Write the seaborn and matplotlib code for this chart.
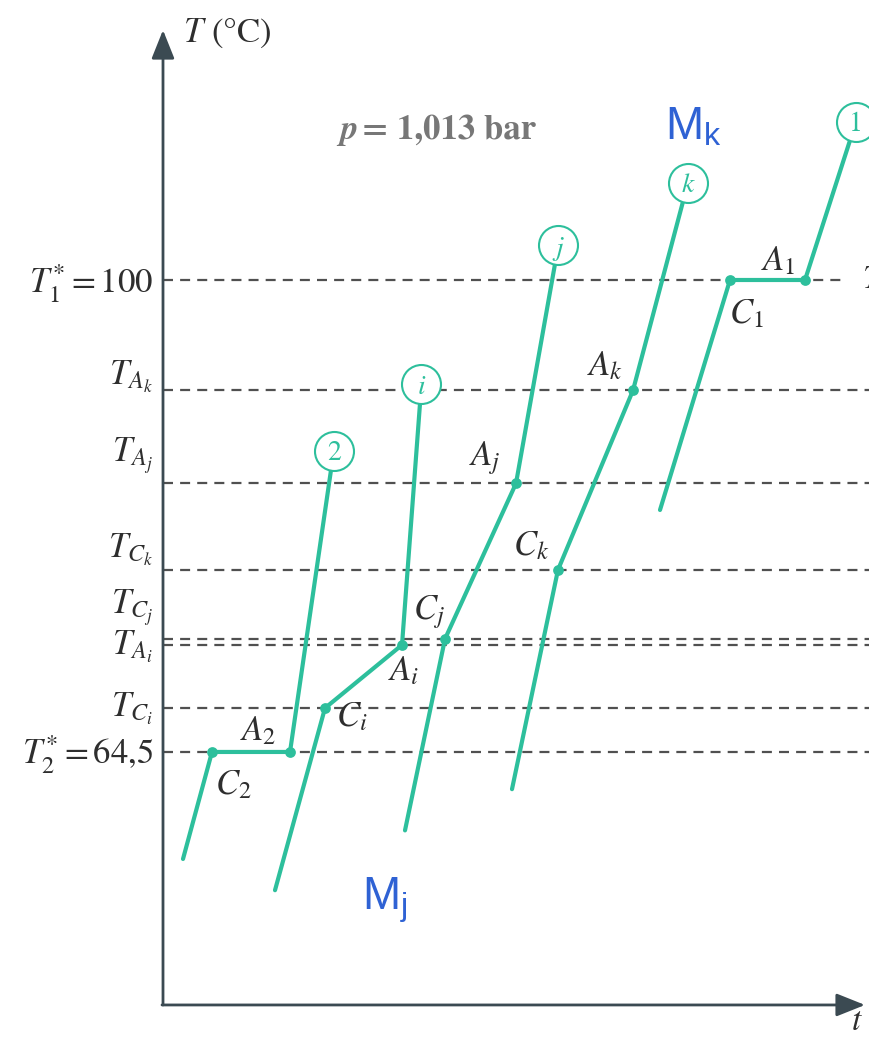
import numpy as np
import pandas as pd
import matplotlib
matplotlib.use("Agg")
import matplotlib.pyplot as plt
import seaborn as sns

# ---- cooling curves: time t (arbitrary units), temperature T (°C) ----
curve_names = ["2", "i", "j", "k", "1"]
t_2 = [2.0, 4.9, 12.7, 16.8]
T_2 = [56.45, 64.5, 64.5, 85.7]
t_i = [11.2, 16.2, 23.9, 25.7]
T_i = [54.1, 67.8, 72.55, 90.7]
t_j = [24.2, 28.2, 35.3, 39.2]
T_j = [58.6, 73.0, 84.7, 101.2]
t_k = [34.9, 39.5, 47.0, 52.0]
T_k = [61.7, 78.2, 91.7, 105.9]
t_1 = [49.7, 56.7, 64.2, 68.7]
T_1 = [82.7, 100.0, 100.0, 110.5]

# labels of the break points (index 1 = C, index 2 = A)
break_labels = {
    "2": [r"$C_2$", r"$A_2$"],
    "i": [r"$C_i$", r"$A_i$"],
    "j": [r"$C_j$", r"$A_j$"],
    "k": [r"$C_k$", r"$A_k$"],
    "1": [r"$C_1$", r"$A_1$"],
}
# label offsets in pixels (C label, A label)
break_offsets = {
    "2": [(3, -42), (-50, 12)],
    "i": [(11, -18), (-14, -35)],
    "j": [(-32, 20), (-47, 18)],
    "k": [(-45, 15), (-46, 15)],
    "1": [(-1, -43), (-44, 10)],
}
circle_texts = {"2": "2", "i": r"$i$", "j": r"$j$", "k": r"$k$", "1": "1"}

# ---- characteristic temperatures (dashed reference lines) ----
level_values = [100.0, 91.7, 84.7, 78.2, 73.0, 72.55, 67.8, 64.5]
level_labels = [r"$T_1^{*} = 100$", r"$T_{A_k}$", r"$T_{A_j}$", r"$T_{C_k}$",
                r"$T_{C_j}$", r"$T_{A_i}$", r"$T_{C_i}$", r"$T_2^{*} = 64{,}5$"]
level_label_dy = [-13, 5, 22, 12, 25, -10, -9, -12]
level_ends = [68.2, 71.0, 71.0, 71.0, 71.0, 71.0, 71.0, 71.0]

GREEN = "#2dbf9c"
AXIS = "#3b4a52"
DASH = "#505050"
BLUE = "#2f62d4"
INK = "#2e2e2e"

sns.set_theme(style="white")
plt.rcParams["font.family"] = ["STIXGeneral", "DejaVu Serif"]
plt.rcParams["mathtext.fontset"] = "stix"

fig = plt.figure(figsize=(8.7, 10.39), dpi=100)
ax = fig.add_axes([0, 0, 1, 1])
ax.set_xlim(-16.3, 70.7)
ax.set_ylim(42.91, 121.06)
ax.axis("off")

t_min, T_bottom, T_top, t_max = 0.0, 45.47, 118.8, 70.2

# dashed reference lines with their labels
for val, lab, dy, end in zip(level_values, level_labels, level_label_dy, level_ends):
    ax.plot([t_min, end], [val, val], color=DASH, lw=1.6,
            linestyle=(0, (4.5, 3.2)), zorder=1)
    ax.annotate(lab, xy=(-1.0, val), xytext=(0, dy), textcoords="offset pixels",
                ha="right", va="baseline", fontsize=25, color=INK)
ax.text(69.9, level_values[0], r"$T$", ha="left", va="center",
        fontsize=24, color=INK)

# axes with arrows
ax.annotate("", xy=(t_min, T_top), xytext=(t_min, T_bottom),
            arrowprops=dict(arrowstyle="-|>,head_length=0.8,head_width=0.32",
                            lw=2, color=AXIS, shrinkA=0, shrinkB=0,
                            mutation_scale=22), zorder=2)
ax.annotate("", xy=(t_max, T_bottom), xytext=(t_min - 0.1, T_bottom),
            arrowprops=dict(arrowstyle="-|>,head_length=0.8,head_width=0.32",
                            lw=2, color=AXIS, shrinkA=0, shrinkB=0,
                            mutation_scale=22), zorder=2)
ax.text(2.0, 117.9, r"$T$ (°C)", ha="left", va="baseline", fontsize=25,
        color=INK)
ax.text(68.8, 43.6, r"$t$", ha="left", va="baseline", fontsize=24,
        color=INK)

# curves
series = {"2": (t_2, T_2), "i": (t_i, T_i), "j": (t_j, T_j),
          "k": (t_k, T_k), "1": (t_1, T_1)}
df = pd.concat([pd.DataFrame({"t": series[n][0], "T": series[n][1], "curve": n})
                for n in curve_names], ignore_index=True)
sns.lineplot(data=df, x="t", y="T", units="curve", estimator=None, sort=False,
             color=GREEN, lw=3.0, ax=ax, zorder=3, legend=False)

# break points C and A
pts = pd.concat([pd.DataFrame({"t": series[n][0][1:3], "T": series[n][1][1:3]})
                 for n in curve_names], ignore_index=True)
sns.scatterplot(data=pts, x="t", y="T", color=GREEN, s=60, edgecolor=GREEN,
                linewidth=0, ax=ax, zorder=4, legend=False)

for n in curve_names:
    tt, TT = series[n]
    for k in range(2):
        ax.annotate(break_labels[n][k], xy=(tt[k + 1], TT[k + 1]),
                    xytext=break_offsets[n][k], textcoords="offset pixels",
                    ha="left", va="baseline", fontsize=25, color=INK)

# circled curve names at the top of each curve
R = 19.5
centers = []
for n in curve_names:
    tt, TT = series[n]
    p2 = ax.transData.transform((tt[-2], TT[-2]))
    p3 = ax.transData.transform((tt[-1], TT[-1]))
    u = (p3 - p2) / np.hypot(*(p3 - p2))
    c = ax.transData.inverted().transform(p3 + u * R)
    centers.append(c)
cdf = pd.DataFrame({"t": [c[0] for c in centers], "T": [c[1] for c in centers]})
sns.scatterplot(data=cdf, x="t", y="T", s=(2 * R / 1.389) ** 2, marker="o",
                facecolor="white", edgecolor=GREEN, linewidth=1.5, ax=ax,
                zorder=5, legend=False)
for n, c in zip(curve_names, centers):
    ax.text(c[0], c[1], circle_texts[n], ha="center", va="center_baseline",
            fontsize=20, color=GREEN, zorder=6)

# annotations
ax.text(17.7, 110.6, "p", ha="left", va="baseline", fontsize=25,
        fontweight="bold", fontstyle="italic", color="#777777")
ax.text(19.9, 110.6, "= 1,013 bar", ha="left", va="baseline", fontsize=25,
        fontweight="bold", color="#777777")
ax.text(50.2, 110.6, r"M$_\mathregular{k}$", ha="left", va="baseline",
        fontsize=33, color=BLUE, family=["Liberation Sans", "DejaVu Sans"])
ax.text(19.9, 52.7, r"M$_\mathregular{j}$", ha="left", va="baseline",
        fontsize=33, color=BLUE, family=["Liberation Sans", "DejaVu Sans"])

fig.savefig("out.png", dpi=100, facecolor="white")
